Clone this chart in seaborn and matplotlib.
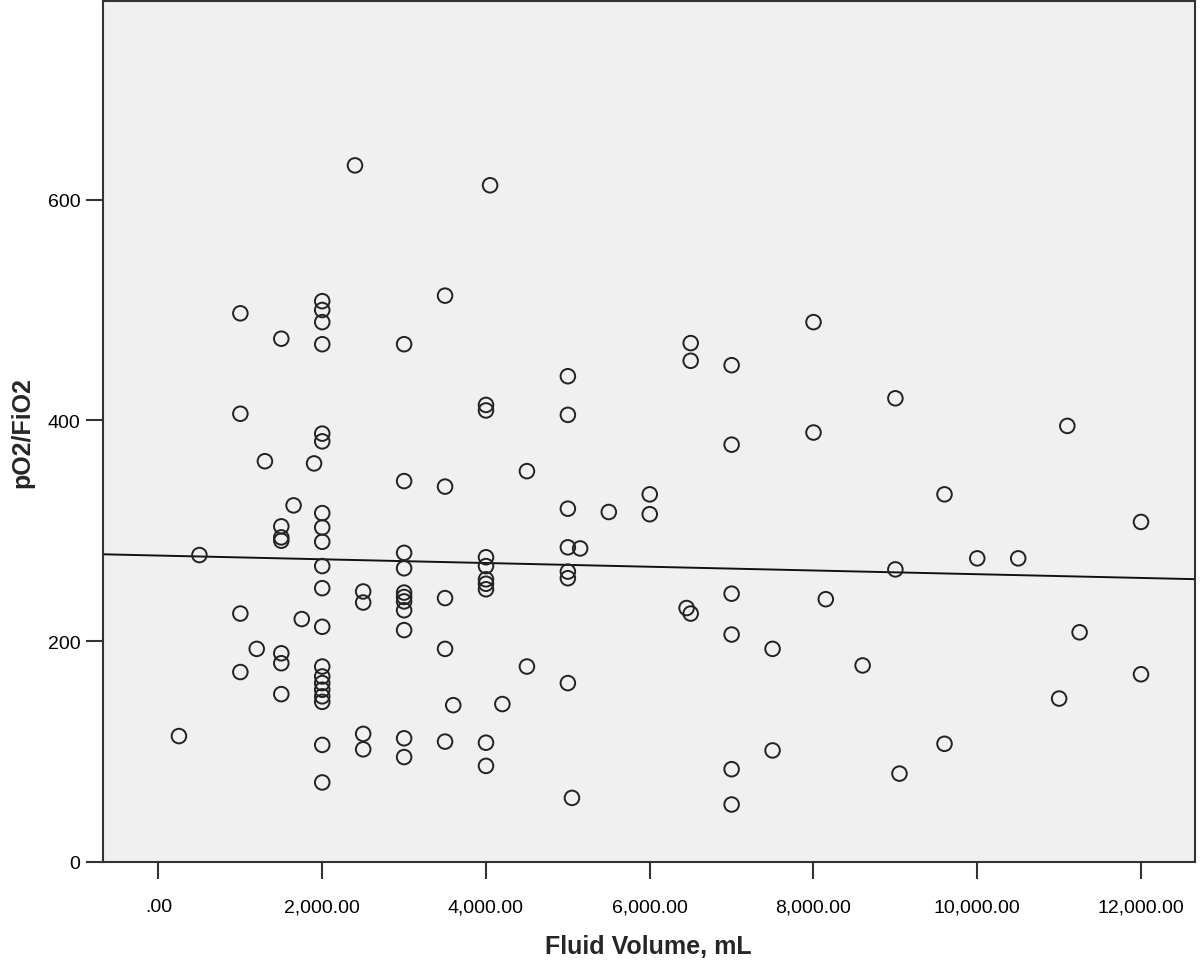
import numpy as np
import pandas as pd
import seaborn as sns
import matplotlib.pyplot as plt
from matplotlib.ticker import FixedLocator, FixedFormatter

# fluid volume (mL) and pO2/FiO2
fluid_volume = [
    250, 500,
    1000, 1000, 1000, 1000,
    1200, 1300,
    1500, 1500, 1500, 1500, 1500, 1500, 1500,
    1650, 1750, 1900,
    2000, 2000, 2000, 2000, 2000, 2000, 2000, 2000, 2000, 2000, 2000,
    2000, 2000, 2000, 2000, 2000, 2000, 2000, 2000, 2000,
    2400,
    2500, 2500, 2500, 2500,
    3000, 3000, 3000, 3000, 3000, 3000, 3000, 3000, 3000, 3000, 3000,
    3500, 3500, 3500, 3500, 3500,
    3600,
    4000, 4000, 4000, 4000, 4000, 4000, 4000, 4000, 4000,
    4050, 4200, 4500, 4500,
    5000, 5000, 5000, 5000, 5000, 5000, 5000,
    5050, 5150, 5500,
    6000, 6000,
    6450, 6500, 6500, 6500,
    7000, 7000, 7000, 7000, 7000, 7000,
    7500, 7500,
    8000, 8000, 8150, 8600,
    9000, 9000, 9050,
    9600, 9600,
    10000, 10500,
    11000, 11100, 11250,
    12000, 12000,
]
po2_fio2 = [
    114, 278,
    497, 406, 225, 172,
    193, 363,
    474, 304, 294, 291, 189, 180, 152,
    323, 220, 361,
    508, 500, 489, 469, 388, 381, 316, 303, 290, 268, 248, 213,
    177, 168, 162, 156, 150, 145, 106, 72,
    631,
    245, 235, 116, 102,
    469, 345, 280, 266, 244, 240, 236, 228, 210, 112, 95,
    513, 340, 239, 193, 109,
    142,
    414, 409, 276, 268, 256, 252, 247, 108, 87,
    613, 143, 354, 177,
    440, 405, 320, 285, 263, 257, 162,
    58, 284, 317,
    333, 315,
    230, 470, 454, 225,
    450, 378, 243, 206, 84, 52,
    193, 101,
    489, 389, 238, 178,
    420, 265, 80,
    333, 107,
    275, 275,
    148, 395, 208,
    308, 170,
]

x_ticks = [0, 2000, 4000, 6000, 8000, 10000, 12000]
x_tick_labels = ['.00', '2,000.00', '4,000.00', '6,000.00', '8,000.00',
                 '10,000.00', '12,000.00']
y_ticks = [0, 200, 400, 600]
y_tick_labels = ['0', '200', '400', '600']

df = pd.DataFrame({'volume': fluid_volume, 'ratio': po2_fio2})

sns.set_style('ticks')
plt.rcParams['font.family'] = ['Liberation Sans', 'DejaVu Sans']

fig = plt.figure(figsize=(12, 9.62), dpi=100)
ax = fig.add_axes([0.0856, 0.103, 0.910, 0.895])
ax.set_facecolor('#f0f0f0')

ax.set_xlim(-681, 12656)
ax.set_ylim(0, 780)

sns.scatterplot(data=df, x='volume', y='ratio', ax=ax, marker='o',
                s=110, facecolors='none', edgecolor='#222222',
                linewidth=1.4, zorder=3)
sns.regplot(data=df, x='volume', y='ratio', ax=ax, scatter=False,
            ci=None, truncate=False,
            line_kws={'color': '#111111', 'linewidth': 1.4, 'zorder': 2})

ax.set_xlim(-681, 12656)
ax.set_ylim(0, 780)

ax.xaxis.set_major_locator(FixedLocator(x_ticks))
ax.xaxis.set_major_formatter(FixedFormatter(x_tick_labels))
ax.yaxis.set_major_locator(FixedLocator(y_ticks))
ax.yaxis.set_major_formatter(FixedFormatter(y_tick_labels))

ax.tick_params(axis='both', direction='out', length=12, width=1.5,
               colors='#333333', labelcolor='black', labelsize=14)
ax.tick_params(axis='x', pad=14)
ax.tick_params(axis='y', pad=4)

for side in ['left', 'bottom', 'top', 'right']:
    ax.spines[side].set_visible(True)
    ax.spines[side].set_color('#333333')
    ax.spines[side].set_linewidth(1.5)

ax.set_xlabel('Fluid Volume, mL', fontsize=18, fontweight='bold', labelpad=14)
ax.set_ylabel('pO2/FiO2', fontsize=18, fontweight='bold', labelpad=10)

fig.savefig('out.png', dpi=100)
